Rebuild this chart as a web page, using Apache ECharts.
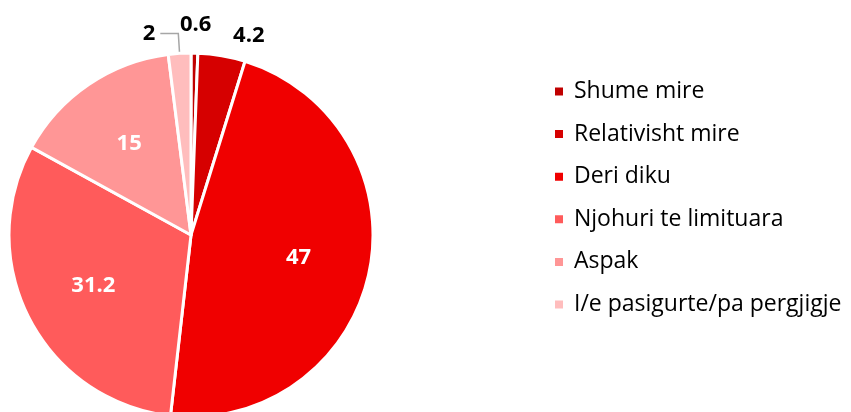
<!DOCTYPE html>
<html>
<head>
<meta charset="utf-8">
<script src="https://cdn.jsdelivr.net/npm/echarts@6/dist/echarts.min.js"></script>
<style>
  html, body { margin: 0; padding: 0; background: #ffffff; }
  #chart { width: 851px; height: 412px; }
</style>
</head>
<body>
<div id="chart"></div>
<script>
const categories = [
  'Shume mire',
  'Relativisht mire',
  'Deri diku',
  'Njohuri te limituara',
  'Aspak',
  'I/e pasigurte/pa pergjigje'
];
const values = [0.6, 4.2, 47, 31.2, 15, 2];
const colors = ['#C00000', '#D60000', '#F00000', '#FF5B5B', '#FF9696', '#FFBDBD'];
// which slices get their number outside the pie
const outside = [true, true, false, false, false, true];

const pieCenter = [191, 235];
const chartInstance = echarts.init(document.getElementById('chart'));

const lineLen = [28, 20, 10, 10, 10, 20];
const lineLen2 = [2, 3, 10, 10, 10, 18];

const option = {
  animation: false,
  textStyle: { fontFamily: '"Open Sans", sans-serif' },
  legend: {
    orient: 'vertical',
    left: 548,
    top: 75,
    itemWidth: 10,
    itemHeight: 10,
    itemGap: 19.6,
    icon: 'rect',
    textStyle: {
      fontSize: 23,
      lineHeight: 22,
      color: '#000000',
      fontFamily: '"Open Sans", sans-serif',
      padding: [0, 0, 0, 5],
    },
    data: categories,
  },
  series: [
    {
      type: 'pie',
      center: pieCenter,
      radius: 182,
      startAngle: 90,
      clockwise: true,
      avoidLabelOverlap: false,
      itemStyle: {
        borderColor: '#ffffff',
        borderWidth: 3,
      },
      label: {
        fontSize: 22,
        fontWeight: 'bold',
        fontFamily: '"Open Sans", sans-serif',
      },
      // push inside labels a bit further out, nudge 0.6 over its slice
      labelLayout: function (p) {
        const i = p.dataIndex;
        const r = p.labelRect;
        if (!outside[i]) {
          const lx = r.x + r.width / 2 - pieCenter[0];
          const ly = r.y + r.height / 2 - pieCenter[1];
          return {
            x: pieCenter[0] + lx * 1.17,
            y: pieCenter[1] + ly * 1.17,
            align: 'center',
            verticalAlign: 'middle',
          };
        }
        if (i === 0) {
          return { dx: -22 };
        }
        return {};
      },
      data: values.map((v, i) => ({
        name: categories[i],
        value: v,
        itemStyle: { color: colors[i] },
        label: outside[i]
          ? { show: true, position: 'outside', color: '#000000', formatter: '{c}' }
          : { show: true, position: 'inside', color: '#ffffff', formatter: '{c}' },
        labelLine: {
          show: i === 5,
          length: lineLen[i],
          length2: lineLen2[i],
          lineStyle: { color: '#a6a6a6', width: 1.5 },
        },
      })),
    },
  ],
};

chartInstance.setOption(option);
</script>
</body>
</html>
